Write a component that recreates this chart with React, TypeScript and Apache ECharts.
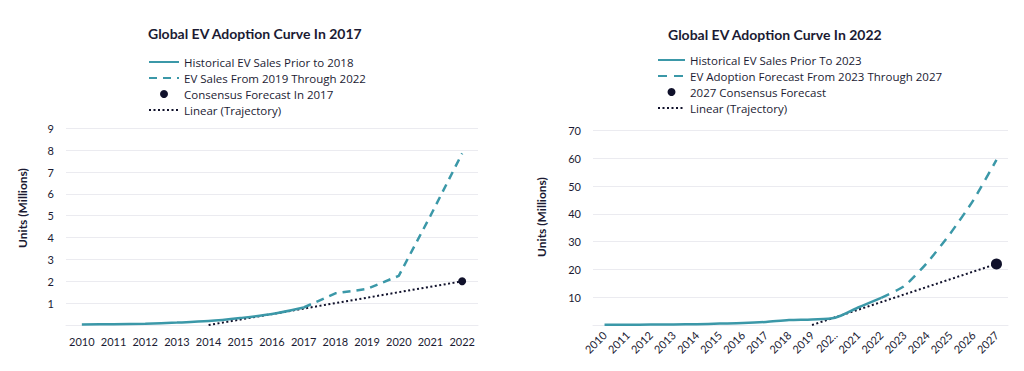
import React, { useEffect, useRef } from "react";
import * as echarts from "echarts";

// ---------- data ----------
const leftYears = ["2010", "2011", "2012", "2013", "2014", "2015", "2016", "2017", "2018", "2019", "2020", "2021", "2022"];
const leftHistorical = [0.02, 0.04, 0.06, 0.11, 0.18, 0.32, 0.5, 0.8, null, null, null, null, null];
const leftSales = [null, null, null, null, null, null, null, 0.8, 1.45, 1.65, 2.25, 5.0, 7.85];
const leftConsensus = [null, null, null, null, null, null, null, null, null, null, null, null, 2.0];
const leftTrend = [null, null, null, null, 0.0, null, null, null, null, null, null, null, 2.0];

const rightYears = ["2010", "2011", "2012", "2013", "2014", "2015", "2016", "2017", "2018", "2019", "202..", "2021", "2022", "2023", "2024", "2025", "2026", "2027"];
const rightHistorical = [0.1, 0.1, 0.15, 0.2, 0.3, 0.5, 0.7, 1.1, 1.8, 2.0, 2.6, 6.3, 9.8, null, null, null, null, null];
const rightForecast = [null, null, null, null, null, null, null, null, null, null, null, null, 9.8, 14, 22.5, 33, 45, 59.5];
const rightConsensus = [null, null, null, null, null, null, null, null, null, null, null, null, null, null, null, null, null, 22];
const rightTrend = [null, null, null, null, null, null, null, null, null, 0.0, null, null, null, null, null, null, null, 22];

const leftNames = ["Historical EV Sales Prior to 2018", "EV Sales From 2019 Through 2022", "Consensus Forecast In 2017", "Linear (Trajectory)"];
const rightNames = ["Historical EV Sales Prior To 2023", "EV Adoption Forecast From 2023 Through 2027", "2027 Consensus Forecast", "Linear (Trajectory) "];

const TEAL = "#3b98a8";
const DARK = "#10112b";
const TEXT = "#1b1b33";
const GRID = "#ebebf0";
const FONT = "Lato, 'Noto Sans', sans-serif";
const LEGEND_FONT = "'Open Sans', Lato, sans-serif";

export default function App() {
  const ref = useRef<HTMLDivElement>(null);
  useEffect(() => {
    if (!ref.current) return;
    const chart = echarts.init(ref.current, null, { renderer: "svg" });

    const xAxisBase = (idx: number, data: string[], rotate: number) => ({
      type: "category",
      gridIndex: idx,
      data,
      boundaryGap: true,
      axisTick: { show: false },
      axisLine: { lineStyle: { color: GRID, width: 1 } },
      axisLabel: {
        color: TEXT,
        fontFamily: FONT,
        fontSize: 11,
        margin: rotate ? 8 : 11,
        rotate,
        interval: 0,
      },
    });
    const yAxisBase = (idx: number, max: number, interval: number) => ({
      type: "value",
      gridIndex: idx,
      min: 0,
      max,
      interval,
      axisLine: { show: false },
      axisTick: { show: false },
      splitLine: { lineStyle: { color: GRID, width: 1 } },
      axisLabel: { color: TEXT, fontFamily: FONT, fontSize: 11, margin: 12, showMinLabel: false },
    });

    const lineSeries = (name: string, data: any[], xi: number, type: any, width: number, color: string, smooth: any) => ({
      name,
      type: "line",
      xAxisIndex: xi,
      yAxisIndex: xi,
      data,
      connectNulls: true,
      showSymbol: false,
      symbol: "none",
      smooth,
      lineStyle: { color, width, type },
      itemStyle: { color },
      z: 2,
    });

    const legendData = (names: string[]) =>
      names.map((n, i) => (i === 2 ? { name: n } : { name: n, itemStyle: { opacity: 0 } }));

    const legendText = { fontFamily: LEGEND_FONT, fontSize: 11.5, color: TEXT, lineHeight: 12 };

    const option: any = {
      animation: false,
      textStyle: { fontFamily: FONT },
      title: [
        { text: "Global EV Adoption Curve In 2017", left: 143, top: 21, textStyle: { fontFamily: FONT, fontSize: 14, fontWeight: "bold", color: TEXT } },
        { text: "Global EV Adoption Curve In 2022", left: 663, top: 22, textStyle: { fontFamily: FONT, fontSize: 14, fontWeight: "bold", color: TEXT } },
      ],
      legend: [
        {
          orient: "vertical", left: 143, top: 51, itemWidth: 30, itemHeight: 8, itemGap: 4,
          selectedMode: false, data: legendData(leftNames), textStyle: legendText,
        },
        {
          orient: "vertical", left: 652, top: 49, itemWidth: 27, itemHeight: 8, itemGap: 4,
          selectedMode: false, data: legendData(rightNames), textStyle: legendText,
        },
      ],
      grid: [
        { left: 66, right: 546, top: 128.3, bottom: 46 },
        { left: 593, right: 16, top: 130.7, bottom: 46 },
      ],
      xAxis: [xAxisBase(0, leftYears, 0), xAxisBase(1, rightYears, 45)],
      yAxis: [yAxisBase(0, 9, 1), yAxisBase(1, 70, 10)],
      series: [
        lineSeries(leftNames[3], leftTrend, 0, [2, 2.5], 2, DARK, false),
        lineSeries(leftNames[0], leftHistorical, 0, "solid", 2.5, TEAL, 0.3),
        lineSeries(leftNames[1], leftSales, 0, [8, 6], 2.5, TEAL, false),
        {
          name: leftNames[2], type: "scatter", xAxisIndex: 0, yAxisIndex: 0,
          data: leftConsensus, symbol: "circle", symbolSize: 8, itemStyle: { color: DARK, opacity: 1 }, z: 5,
        },
        lineSeries(rightNames[3], rightTrend, 1, [2, 2.5], 2, DARK, false),
        lineSeries(rightNames[0], rightHistorical, 1, "solid", 2.5, TEAL, 0.3),
        lineSeries(rightNames[1], rightForecast, 1, [9, 7], 2.5, TEAL, 0.2),
        {
          name: rightNames[2], type: "scatter", xAxisIndex: 1, yAxisIndex: 1,
          data: rightConsensus, symbol: "circle", symbolSize: 11, itemStyle: { color: DARK, opacity: 1 }, z: 5,
        },
      ],
      graphic: [
        {
          type: "text", x: 22, y: 208, rotation: Math.PI / 2,
          style: { text: "Units (Millions)", fontFamily: FONT, fontSize: 12, fontWeight: "bold", fill: TEXT, align: "center", verticalAlign: "middle" },
        },
        {
          type: "text", x: 541, y: 217, rotation: Math.PI / 2,
          style: { text: "Units (Millions)", fontFamily: FONT, fontSize: 12, fontWeight: "bold", fill: TEXT, align: "center", verticalAlign: "middle" },
        },
      ],
    };
    chart.setOption(option);
    return () => chart.dispose();
  }, []);

  return (
    <div
      ref={ref}
      style={{ position: "fixed", left: 0, top: 0, width: 1024, height: 371, background: "#ffffff" }}
    />
  );
}
